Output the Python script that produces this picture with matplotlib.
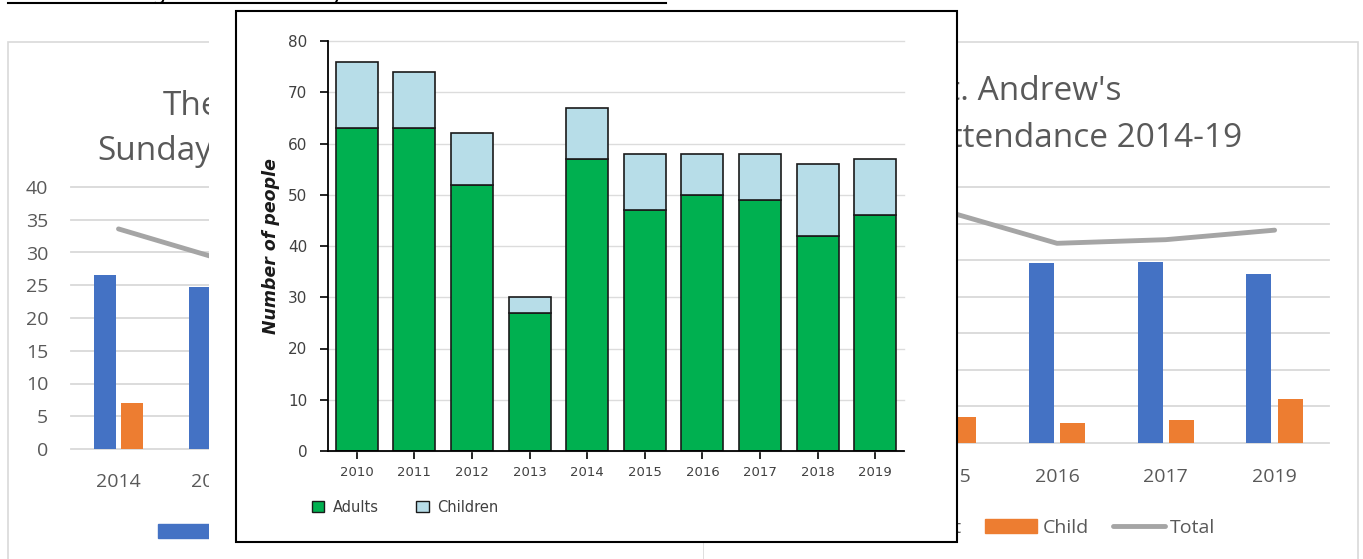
import matplotlib
matplotlib.use("Agg")
import matplotlib.pyplot as plt
from matplotlib.patches import Rectangle, Patch
from matplotlib.lines import Line2D
import numpy as np

W, H = 1363, 559

# front chart: attendance 2010-2019
main_years = ["2010", "2011", "2012", "2013", "2014", "2015", "2016", "2017", "2018", "2019"]
main_adults = [63, 63, 52, 27, 57, 47, 50, 49, 42, 46]
main_children = [13, 11, 10, 3, 10, 11, 8, 9, 14, 11]

# chart behind, on the left (mostly covered)
left_years = ["2014", "2015", "2016", "2017", "2018"]
left_adult = [26.6, 24.7, 25.0, 24.0, 23.0]
left_child = [7.0, 4.6, 4.0, 5.0, 6.0]

# chart behind, on the right (partly covered)
right_years = ["2014", "2015", "2016", "2017", "2019"]
right_adult = [27.0, 28.0, 24.6, 24.7, 23.1]
right_child = [5.0, 3.6, 2.7, 3.1, 6.0]

BLUE = "#4472C4"
ORANGE = "#ED7D31"
LINE_GREY = "#A5A5A5"
GRID = "#D9D9D9"
TXT = "#595959"
GREEN = "#00B050"
LIGHTBLUE = "#B7DDE8"
EDGE = "#1a1a1a"

# pasted picture (white margin starts at 209, black frame 236..957)
COVER_L, COVER_R = 209, 957


def fx(x):
    return x / W


def fy(y):
    return 1 - y / H


def frac(x0, y0, x1, y1):
    return [x0 / W, 1 - y1 / H, (x1 - x0) / W, (y1 - y0) / H]


def office_chart(fig, frame, plot, years, adult, child, ymax, xpad, legend_at, show_y):
    x0, y0, x1, y1 = frame
    fig.add_artist(Rectangle((fx(x0), fy(y1)), (x1 - x0) / W, (y1 - y0) / H,
                             transform=fig.transFigure, facecolor="white",
                             edgecolor=GRID, lw=1.2, zorder=-1))
    ax = fig.add_axes(frac(*plot))
    ax.patch.set_alpha(0)
    x = np.arange(len(years))
    total = np.array(adult) + np.array(child)
    ax.bar(x - 0.145, adult, 0.23, color=BLUE)
    ax.bar(x + 0.145, child, 0.23, color=ORANGE)
    ax.plot(x, total, color=LINE_GREY, lw=3.5, solid_capstyle="round")
    ax.set_xlim(-0.5, len(years) - 0.5)
    ax.set_ylim(0, ymax)
    ax.set_yticks(range(0, ymax + 1, 5))
    ax.set_xticks(x, years)
    ax.grid(axis="y", color=GRID, lw=1.3)
    ax.set_axisbelow(True)
    for gl in ax.get_ygridlines():
        gl.set_clip_on(False)
    for s in ax.spines.values():
        s.set_visible(False)
    ax.tick_params(axis="y", length=0, labelsize=14, labelcolor=TXT, pad=16.5,
                   labelleft=show_y)
    ax.tick_params(axis="x", length=0, labelsize=14, labelcolor=TXT, pad=xpad)
    for t in ax.get_xticklabels() + ax.get_yticklabels():
        t.set_fontfamily("Open Sans")

    # year labels that sit wholly under the pasted picture can't be seen
    step = (plot[2] - plot[0]) / len(years)
    for i, t in enumerate(ax.get_xticklabels()):
        cx = plot[0] + (i + 0.5) * step
        if cx - 25 > COVER_L and cx + 25 < COVER_R:
            t.set_visible(False)

    handles = [Patch(color=BLUE), Patch(color=ORANGE),
               Line2D([], [], color=LINE_GREY, lw=3.5, solid_capstyle="round")]
    leg = fig.legend(handles, ["Adult", "Child", "Total"], loc="center left",
                     bbox_to_anchor=(fx(legend_at[0]), fy(legend_at[1])), ncol=3,
                     frameon=False, handlelength=2.7, handleheight=0.72,
                     handletextpad=0.26, columnspacing=1.24, borderpad=0,
                     borderaxespad=0, labelcolor=TXT,
                     prop={"family": "Open Sans", "size": 14})
    leg.set_zorder(1)
    return ax


fig = plt.figure(figsize=(W / 100, H / 100), dpi=100)

# heading of the page, cut off at the top edge
fig.text(fx(2), 1.0, "Attendance figures for Sunday", fontsize=16.2,
         va="baseline", ha="left", color="black")
fig.add_artist(Line2D([fx(8), fx(666)], [fy(3), fy(3)], color="black", lw=1.5))

office_chart(fig, (8, 42, 720, 600), (71, 187, 546, 449), left_years,
             left_adult, left_child, 40, 17, (158, 533), True)
fig.text(fx(163), fy(115), "The", fontsize=24, color=TXT, family="Open Sans",
         ha="left", va="baseline", zorder=1)
fig.text(fx(97), fy(160), "Sunday", fontsize=24, color=TXT, family="Open Sans",
         ha="left", va="baseline", zorder=1)

office_chart(fig, (703, 42, 1358, 600), (785, 187, 1329, 443), right_years,
             right_adult, right_child, 35, 18, (855, 528), False)
fig.text(fx(1122), fy(100), "St. Andrew's", fontsize=24, color=TXT, family="Open Sans",
         ha="right", va="baseline", zorder=1)
fig.text(fx(1242), fy(147), "Sunday Attendance 2014-19", fontsize=24, color=TXT,
         family="Open Sans", ha="right", va="baseline", zorder=1)

# pasted picture on top: white margin plus black frame
fig.add_artist(Rectangle((fx(COVER_L), fy(559)), (703 - COVER_L) / W, (559 - 8) / H,
                         transform=fig.transFigure, facecolor="white",
                         edgecolor="none", zorder=5))
fig.add_artist(Rectangle((fx(236), fy(542)), (COVER_R - 236) / W, (542 - 11) / H,
                         transform=fig.transFigure, facecolor="white",
                         edgecolor="black", lw=1.5, zorder=5))

ax = fig.add_axes(frac(328, 41, 904, 451))
ax.set_zorder(6)
x = np.arange(len(main_years))
ax.bar(x, main_adults, 0.73, color=GREEN, edgecolor=EDGE, lw=1.2)
ax.bar(x, main_children, 0.73, bottom=main_adults, color=LIGHTBLUE, edgecolor=EDGE, lw=1.2)
ax.set_xlim(-0.5, len(main_years) - 0.5)
ax.set_ylim(0, 80)
ax.set_yticks(range(0, 81, 10))
ax.set_xticks(x, main_years)
ax.grid(axis="y", color="#DCDCDC", lw=1)
ax.set_axisbelow(True)
for gl in ax.get_ygridlines():
    gl.set_clip_on(False)
ax.spines["top"].set_visible(False)
ax.spines["right"].set_visible(False)
ax.spines["left"].set_linewidth(1.3)
ax.spines["bottom"].set_linewidth(1.3)
ax.tick_params(axis="y", length=6, width=1.2, pad=9, labelsize=11, labelcolor="#404040")
ax.tick_params(axis="x", length=6, width=1.2, pad=5, labelsize=9.5, labelcolor="#404040")
ax.set_ylabel("Number of people", fontsize=12.5, fontweight="bold", fontstyle="italic",
              color=EDGE)
ax.yaxis.set_label_coords(-0.083, 0.5)

leg = fig.legend([Patch(facecolor=GREEN, edgecolor=EDGE), Patch(facecolor=LIGHTBLUE, edgecolor=EDGE)],
                 ["Adults", "Children"], loc="center left",
                 bbox_to_anchor=(fx(312), fy(507)), ncol=2, frameon=False, fontsize=10.5,
                 handlelength=0.85, handleheight=0.85, handletextpad=0.55,
                 columnspacing=2.6, borderpad=0, borderaxespad=0, labelcolor="#404040")
leg.set_zorder(7)

fig.savefig("out.png", dpi=100)
